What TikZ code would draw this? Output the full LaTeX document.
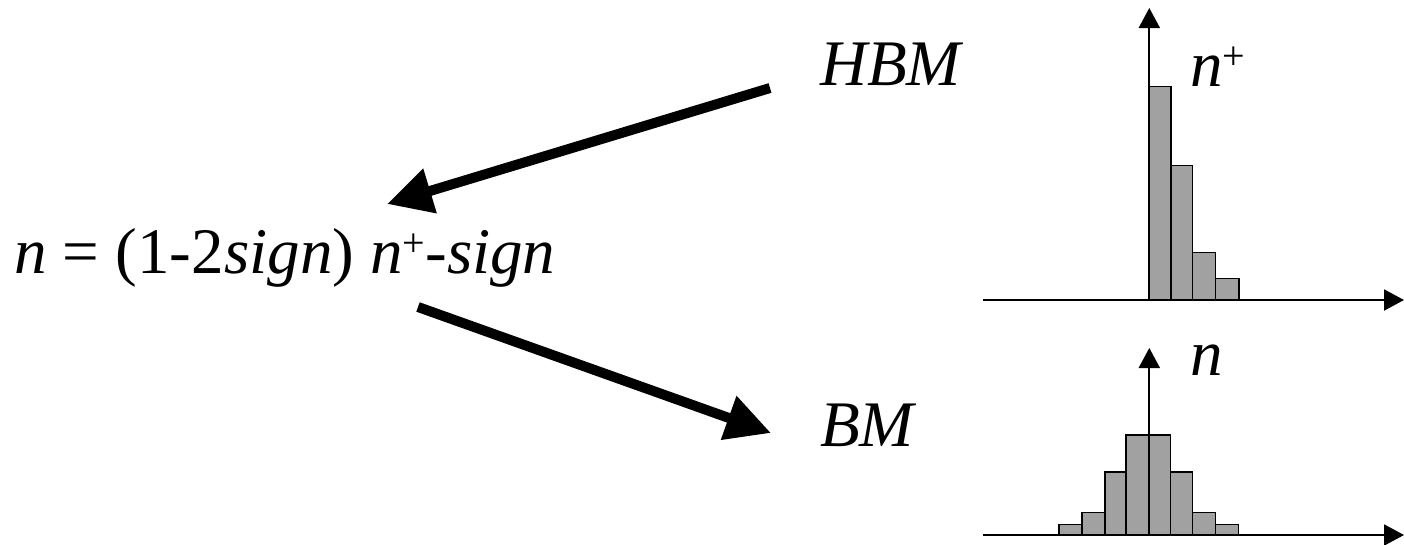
\documentclass[tikz,border=0pt]{standalone}
\usepackage{fontspec}
\setmainfont{Liberation Serif}
\usetikzlibrary{arrows.meta}
\tikzset{
  lbl/.style={anchor=base west, inner sep=0pt, font=\fontsize{65}{70}\selectfont\itshape},
  bigarrow/.style={line width=10pt, -{Triangle[length=45pt,width=44pt]}},
  axis/.style={line width=2pt, -{Triangle[length=20pt,width=21pt]}},
  bar/.style={fill=black!37, draw=black, line width=1.5pt},
}
\newcommand{\supplus}{\raisebox{17pt}{\fontsize{40}{40}\selectfont\upshape+}}
\begin{document}
\begin{tikzpicture}[x=1pt,y=-1pt]
\useasboundingbox (0,0) rectangle (1404,544);
% labels
\node[lbl] (formula) at (14,273) {n \upshape= (1-2\itshape sign\upshape) \itshape n\supplus-sign};
\node[lbl] (hbm) at (820,85) {HBM};
\node[lbl] (bm) at (820,446) {BM};
\node[lbl] (nplus) at (1190,86) {n\supplus};
\node[lbl] (nlab) at (1190,375) {n};
% big arrows
\coordinate (a1s) at (770,88);
\coordinate (a1e) at (387,204);
\coordinate (a2s) at (418,307);
\coordinate (a2e) at (771,433);
\draw[bigarrow] (a1s) -- (a1e);
\draw[bigarrow] (a2s) -- (a2e);
% top histogram
\foreach \xl/\xr/\yt in {1149.3/1171/86.7, 1171/1192.7/165.7, 1192.7/1215.7/252.7, 1215.7/1239/278.3}
  \draw[bar] (\xl,300) rectangle (\xr,\yt);
\coordinate (tx0) at (983,300);
\coordinate (tx1) at (1404,300);
\coordinate (ty0) at (1149.3,300);
\coordinate (ty1) at (1149.3,8);
\draw[axis] (tx0) -- (tx1);
\draw[axis] (ty0) -- (ty1);
% bottom histogram
\foreach \xl/\xr/\yt in {1059/1082/524.7, 1082/1105/512.7, 1105/1126/472, 1126/1149.3/435, 1149.3/1170.7/435, 1170.7/1192.3/472, 1192.3/1215.3/512.7, 1215.3/1238.3/524.7}
  \draw[bar] (\xl,535) rectangle (\xr,\yt);
\coordinate (bx0) at (983,535);
\coordinate (bx1) at (1404,535);
\coordinate (by0) at (1149.3,535);
\coordinate (by1) at (1149.3,348);
\draw[axis] (bx0) -- (bx1);
\draw[axis] (by0) -- (by1);
\end{tikzpicture}
\end{document}
